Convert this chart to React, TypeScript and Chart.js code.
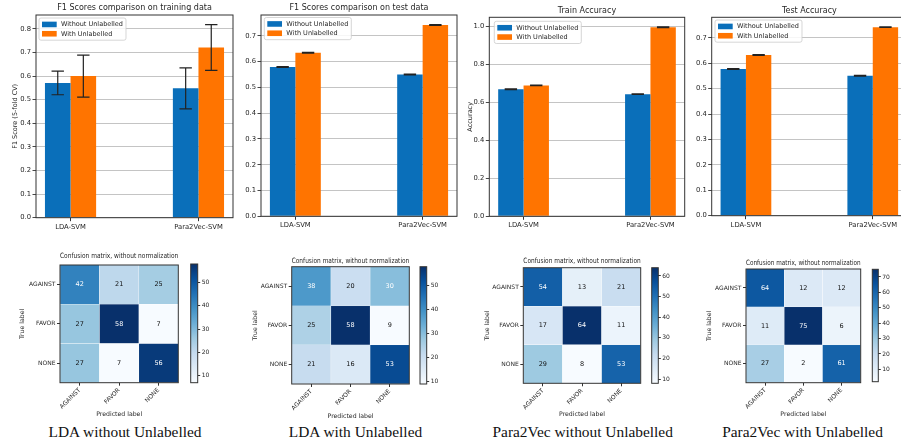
import React, { useEffect, useRef } from 'react';
import { Chart, registerables } from 'chart.js';

Chart.register(...registerables);

const FONT_FAMILY = 'DejaVu Sans';
const TEXT_COLOR = '#262626';
const SPINE_COLOR = '#333333';
const GRID_COLOR = '#bdbdbd';
const BLUE = '#0a6fba';
const ORANGE = '#ff7400';
Chart.defaults.font.family = FONT_FAMILY;
Chart.defaults.color = TEXT_COLOR;

// ---------------- data ----------------
const barCategories = ['LDA-SVM', 'Para2Vec-SVM'];
const seriesLabels = ['Without Unlabelled', 'With Unlabelled'];

const f1TrainWithout = [0.571, 0.548];
const f1TrainWithoutErr = [0.05, 0.087];
const f1TrainWith = [0.6, 0.721];
const f1TrainWithErr = [0.089, 0.097];

const f1TestWithout = [0.579, 0.55];
const f1TestWithoutErr = [0.0015, 0.0015];
const f1TestWith = [0.634, 0.742];
const f1TestWithErr = [0.0015, 0.0015];

const trainAccWithout = [0.668, 0.642];
const trainAccWithoutErr = [0.002, 0.002];
const trainAccWith = [0.688, 0.994];
const trainAccWithErr = [0.002, 0.002];

const testAccWithout = [0.577, 0.551];
const testAccWithoutErr = [0.0015, 0.0015];
const testAccWith = [0.632, 0.742];
const testAccWithErr = [0.0015, 0.0015];

const classLabels = ['AGAINST', 'FAVOR', 'NONE'];
const cmLdaWithout = [
  [42, 21, 25],
  [27, 58, 7],
  [27, 7, 56],
];
const cmLdaWith = [
  [38, 20, 30],
  [25, 58, 9],
  [21, 16, 53],
];
const cmP2vWithout = [
  [54, 13, 21],
  [17, 64, 11],
  [29, 8, 53],
];
const cmP2vWith = [
  [64, 12, 12],
  [11, 75, 6],
  [27, 2, 61],
];
const captions = [
  'LDA without Unlabelled',
  'LDA with Unlabelled',
  'Para2Vec without Unlabelled',
  'Para2Vec with Unlabelled',
];

// ---------------- helpers ----------------
const BLUES = ['#f7fbff', '#deebf7', '#c6dbef', '#9ecae1', '#6baed6', '#4292c6', '#2171b5', '#08519c', '#08306b'];
function hexRgb(h: string) {
  return [parseInt(h.slice(1, 3), 16), parseInt(h.slice(3, 5), 16), parseInt(h.slice(5, 7), 16)];
}
function bluesAt(t: number) {
  const tt = Math.max(0, Math.min(1, t));
  const p = tt * (BLUES.length - 1);
  const i = Math.min(Math.floor(p), BLUES.length - 2);
  const f = p - i;
  const a = hexRgb(BLUES[i]);
  const b = hexRgb(BLUES[i + 1]);
  const c = a.map((v, k) => Math.round(v + (b[k] - v) * f));
  return `rgb(${c[0]},${c[1]},${c[2]})`;
}
const lh = (s: number) => s * 1.2;

type Box = { l: number; t: number; r: number; b: number };

const framePlugin = {
  id: 'frame',
  afterDatasetsDraw(chart: any) {
    const a = chart.chartArea;
    const ctx = chart.ctx;
    ctx.save();
    ctx.strokeStyle = SPINE_COLOR;
    ctx.lineWidth = 1;
    ctx.strokeRect(a.left, a.top, a.right - a.left, a.bottom - a.top);
    ctx.restore();
  },
};

const errorBarPlugin = {
  id: 'errorBars',
  afterDatasetsDraw(chart: any) {
    const ctx = chart.ctx;
    const yScale = chart.scales.y;
    chart.data.datasets.forEach((ds: any, di: number) => {
      const errs = ds.errors;
      if (!errs) return;
      const meta = chart.getDatasetMeta(di);
      meta.data.forEach((el: any, j: number) => {
        const v = ds.data[j].y;
        const e = errs[j];
        const x = el.x;
        const y1 = yScale.getPixelForValue(v + e);
        const y2 = yScale.getPixelForValue(v - e);
        const cap = 6.2;
        ctx.save();
        ctx.strokeStyle = '#222';
        ctx.lineWidth = 1.2;
        ctx.beginPath();
        ctx.moveTo(x, y1);
        ctx.lineTo(x, y2);
        ctx.moveTo(x - cap, y1);
        ctx.lineTo(x + cap, y1);
        ctx.moveTo(x - cap, y2);
        ctx.lineTo(x + cap, y2);
        ctx.stroke();
        ctx.restore();
      });
    });
  },
};

function makeLegendPlugin(dx: number, dy: number) {
  return {
    id: 'boxLegend',
    afterDraw(chart: any) {
      const ctx = chart.ctx;
      const a = chart.chartArea;
      const size = 6.5;
      const padX = 3;
      const padY = 1.8;
      const patchW = 14.7;
      const patchH = 5.6;
      const gap = 4.3;
      const rowH = 9.3;
      ctx.save();
      ctx.font = `${size}px "${FONT_FAMILY}"`;
      const ds = chart.data.datasets;
      const tw = Math.max(...ds.map((d: any) => ctx.measureText(d.label).width));
      const x0 = a.left + dx;
      const y0 = a.top + dy;
      const w = padX + patchW + gap + tw + padX;
      const h = padY * 2 + ds.length * rowH;
      ctx.beginPath();
      if (ctx.roundRect) ctx.roundRect(x0, y0, w, h, 2);
      else ctx.rect(x0, y0, w, h);
      ctx.fillStyle = 'rgba(255,255,255,0.85)';
      ctx.fill();
      ctx.strokeStyle = '#cccccc';
      ctx.lineWidth = 0.8;
      ctx.stroke();
      ds.forEach((d: any, i: number) => {
        const cy = y0 + padY + rowH * (i + 0.5);
        ctx.fillStyle = d.backgroundColor;
        ctx.fillRect(x0 + padX, cy - patchH / 2, patchW, patchH);
        ctx.fillStyle = TEXT_COLOR;
        ctx.textBaseline = 'middle';
        ctx.textAlign = 'left';
        ctx.fillText(d.label, x0 + padX + patchW + gap, cy + 0.3);
      });
      ctx.restore();
    },
  };
}

function makeCellTextPlugin(matrix: number[][]) {
  const vmax = Math.max(...matrix.flat());
  return {
    id: 'cellText',
    afterDatasetsDraw(chart: any) {
      const ctx = chart.ctx;
      ctx.save();
      ctx.font = `6.5px "${FONT_FAMILY}"`;
      ctx.textAlign = 'center';
      ctx.textBaseline = 'middle';
      chart.data.datasets.forEach((_ds: any, i: number) => {
        const meta = chart.getDatasetMeta(i);
        meta.data.forEach((el: any, j: number) => {
          const v = matrix[i][j];
          ctx.fillStyle = v > vmax / 2 ? '#ffffff' : '#111111';
          ctx.fillText(String(v), el.x, (el.y + el.base) / 2);
        });
      });
      ctx.restore();
    },
  };
}

// ---------------- bar panels ----------------
interface BarPanel {
  canvas: Box;
  plot: Box;
  title: string;
  titleY: number;
  yTitle: string;
  yTitleX: number;
  step: number;
  without: number[];
  withoutErr: number[];
  withU: number[];
  withErr: number[];
  legendDx: number;
  legendDy: number;
}

const barPanels: BarPanel[] = [
  {
    canvas: { l: 0, t: 0, r: 237, b: 236 },
    plot: { l: 36, t: 15, r: 233, b: 217.7 },
    title: 'F1 Scores comparison on training data',
    titleY: 8.3,
    yTitle: 'F1 Score (5-fold CV)',
    yTitleX: 15,
    step: 0.1,
    without: f1TrainWithout,
    withoutErr: f1TrainWithoutErr,
    withU: f1TrainWith,
    withErr: f1TrainWithErr,
    legendDx: 3,
    legendDy: 3,
  },
  {
    canvas: { l: 237, t: 0, r: 461, b: 236 },
    plot: { l: 261, t: 15, r: 457, b: 216.3 },
    title: 'F1 Scores comparison on test data',
    titleY: 8.3,
    yTitle: '',
    yTitleX: 0,
    step: 0.1,
    without: f1TestWithout,
    withoutErr: f1TestWithoutErr,
    withU: f1TestWith,
    withErr: f1TestWithErr,
    legendDx: 3.3,
    legendDy: 2.5,
  },
  {
    canvas: { l: 460, t: 0, r: 688, b: 236 },
    plot: { l: 489.3, t: 17.3, r: 684.7, b: 216.3 },
    title: 'Train Accuracy',
    titleY: 11,
    yTitle: 'Accuracy',
    yTitleX: 470,
    step: 0.2,
    without: trainAccWithout,
    withoutErr: trainAccWithoutErr,
    withU: trainAccWith,
    withErr: trainAccWithErr,
    legendDx: 5,
    legendDy: 4,
  },
  {
    canvas: { l: 690, t: 0, r: 911, b: 236 },
    plot: { l: 711.7, t: 17.3, r: 907, b: 215.7 },
    title: 'Test Accuracy',
    titleY: 11,
    yTitle: '',
    yTitleX: 0,
    step: 0.1,
    without: testAccWithout,
    withoutErr: testAccWithoutErr,
    withU: testAccWith,
    withErr: testAccWithErr,
    legendDx: 3.3,
    legendDy: 2.7,
  },
];

function makeBarConfig(p: BarPanel): any {
  const TITLE = 8;
  const TICK = 6.8;
  const AXT = 6.5;
  const tTop = p.titleY - p.canvas.t - lh(TITLE) / 2;
  const tBottom = p.plot.t - p.canvas.t - lh(TITLE) - tTop;
  const yMax =
    1.05 *
    Math.max(
      ...p.without.map((v, i) => v + p.withoutErr[i]),
      ...p.withU.map((v, i) => v + p.withErr[i])
    );
  return {
    type: 'bar',
    data: {
      datasets: [
        {
          label: seriesLabels[0],
          data: p.without.map((v, i) => ({ x: i, y: v })),
          errors: p.withoutErr,
          backgroundColor: BLUE,
          borderWidth: 0,
        },
        {
          label: seriesLabels[1],
          data: p.withU.map((v, i) => ({ x: i, y: v })),
          errors: p.withErr,
          backgroundColor: ORANGE,
          borderWidth: 0,
        },
      ],
    },
    options: {
      responsive: false,
      animation: false,
      events: [],
      datasets: { bar: { categoryPercentage: 0.4, barPercentage: 1 } },
      layout: { padding: { left: 0, top: 0, bottom: 0, right: p.canvas.r - p.plot.r } },
      scales: {
        x: {
          type: 'linear',
          min: -0.27,
          max: 1.27,
          offset: false,
          grid: { display: true, drawOnChartArea: false, drawTicks: true, tickLength: 3.5, tickColor: SPINE_COLOR, offset: false },
          border: { display: false },
          afterBuildTicks: (s: any) => {
            s.ticks = barCategories.map((_c, i) => ({ value: i }));
          },
          ticks: {
            autoSkip: false,
            maxRotation: 0,
            minRotation: 0,
            padding: 1.5,
            font: { size: TICK },
            color: TEXT_COLOR,
            callback: (v: any) => barCategories[Math.round(Number(v))] ?? '',
          },
          afterFit: (s: any) => {
            s.height = p.canvas.b - p.plot.b;
          },
        },
        y: {
          min: 0,
          max: yMax,
          grid: { color: GRID_COLOR, lineWidth: 0.9, tickColor: SPINE_COLOR, tickLength: 3.5 },
          border: { display: false },
          ticks: {
            stepSize: p.step,
            includeBounds: false,
            padding: 1.5,
            font: { size: TICK },
            color: TEXT_COLOR,
            callback: (v: any) => Number(v).toFixed(1),
          },
          title: {
            display: !!p.yTitle,
            text: p.yTitle,
            font: { size: AXT },
            color: TEXT_COLOR,
            padding: { top: p.yTitleX - p.canvas.l - lh(AXT) / 2, bottom: 0 },
          },
          afterFit: (s: any) => {
            s.width = p.plot.l - p.canvas.l;
          },
        },
      },
      plugins: {
        legend: { display: false },
        tooltip: { enabled: false },
        title: {
          display: true,
          text: p.title,
          fullSize: false,
          color: TEXT_COLOR,
          font: { size: TITLE, weight: 'normal' },
          padding: { top: tTop, bottom: tBottom },
        },
      },
    },
    plugins: [framePlugin, errorBarPlugin, makeLegendPlugin(p.legendDx, p.legendDy)],
  };
}

// ---------------- matrix panels ----------------
interface MatrixPanel {
  canvas: Box;
  plot: Box;
  titleY: number;
  trueX: number;
  predY: number;
  cb: Box;
  cbCanvas: Box;
  matrix: number[][];
  caption: string;
  captionX: number;
}

const matrixPanels: MatrixPanel[] = [
  {
    canvas: { l: 8, t: 246, r: 182, b: 420 },
    plot: { l: 60, t: 265, r: 178.3, b: 382.7 },
    titleY: 255.7,
    trueX: 22.7,
    predY: 414.3,
    cb: { l: 190.7, t: 264, r: 197.7, b: 382.7 },
    cbCanvas: { l: 189, t: 257, r: 220, b: 390 },
    matrix: cmLdaWithout,
    caption: captions[0],
    captionX: 125,
  },
  {
    canvas: { l: 240, t: 249, r: 412, b: 422 },
    plot: { l: 291.7, t: 266.7, r: 409.3, b: 384 },
    titleY: 260.7,
    trueX: 255,
    predY: 416,
    cb: { l: 420, t: 266.7, r: 426.7, b: 384 },
    cbCanvas: { l: 418, t: 259, r: 450, b: 392 },
    matrix: cmLdaWith,
    caption: captions[1],
    captionX: 355.5,
  },
  {
    canvas: { l: 472, t: 250, r: 644, b: 420 },
    plot: { l: 523.3, t: 267.7, r: 640.7, b: 383.3 },
    titleY: 261.3,
    trueX: 487.3,
    predY: 414.3,
    cb: { l: 651.7, t: 267.7, r: 658.3, b: 383.3 },
    cbCanvas: { l: 650, t: 260, r: 682, b: 391 },
    matrix: cmP2vWithout,
    caption: captions[2],
    captionX: 582.7,
  },
  {
    canvas: { l: 695, t: 252, r: 864, b: 420 },
    plot: { l: 746, t: 269, r: 860.7, b: 382.7 },
    titleY: 263.3,
    trueX: 709.3,
    predY: 414,
    cb: { l: 872.3, t: 269.3, r: 878.3, b: 381.7 },
    cbCanvas: { l: 871, t: 262, r: 901, b: 389 },
    matrix: cmP2vWith,
    caption: captions[3],
    captionX: 802.5,
  },
];

function makeMatrixConfig(p: MatrixPanel): any {
  const TITLE = 7.3;
  const TICK = 6;
  const AXT = 6.2;
  const flat = p.matrix.flat();
  const vmin = Math.min(...flat);
  const vmax = Math.max(...flat);
  const tTop = p.titleY - p.canvas.t - lh(TITLE) / 2;
  const tBottom = p.plot.t - p.canvas.t - lh(TITLE) - tTop;
  return {
    type: 'bar',
    data: {
      labels: classLabels,
      datasets: classLabels.map((row, i) => ({
        label: row,
        data: classLabels.map(() => 1),
        backgroundColor: p.matrix[i].map((v) => bluesAt((v - vmin) / (vmax - vmin))),
        borderWidth: 0.5,
        borderColor: 'rgba(255,255,255,0.35)',
        barPercentage: 1,
        categoryPercentage: 1,
      })),
    },
    options: {
      responsive: false,
      animation: false,
      events: [],
      layout: { padding: { left: 0, top: 0, bottom: 0, right: p.canvas.r - p.plot.r } },
      scales: {
        x: {
          type: 'category',
          stacked: true,
          offset: true,
          grid: { offset: false, drawOnChartArea: false, drawTicks: true, tickLength: 3, tickColor: SPINE_COLOR },
          border: { display: false },
          ticks: { autoSkip: false, minRotation: 45, maxRotation: 45, padding: 1, font: { size: TICK }, color: TEXT_COLOR },
          title: {
            display: true,
            text: 'Predicted label',
            font: { size: AXT },
            color: TEXT_COLOR,
            padding: { top: 0, bottom: p.canvas.b - p.predY - lh(AXT) / 2 },
          },
          afterFit: (s: any) => {
            s.height = p.canvas.b - p.plot.b;
          },
        },
        y: {
          type: 'linear',
          stacked: true,
          reverse: true,
          min: 0,
          max: classLabels.length,
          afterBuildTicks: (s: any) => {
            s.ticks = classLabels.map((_c, i) => ({ value: i + 0.5 }));
          },
          grid: { drawOnChartArea: false, drawTicks: true, tickLength: 3, tickColor: SPINE_COLOR },
          border: { display: false },
          ticks: {
            autoSkip: false,
            padding: 1.5,
            font: { size: TICK },
            color: TEXT_COLOR,
            callback: (v: any) => classLabels[Math.floor(Number(v))] ?? '',
          },
          title: {
            display: true,
            text: 'True label',
            font: { size: AXT },
            color: TEXT_COLOR,
            padding: { top: p.trueX - p.canvas.l - lh(AXT) / 2, bottom: 0 },
          },
          afterFit: (s: any) => {
            s.width = p.plot.l - p.canvas.l;
          },
        },
      },
      plugins: {
        legend: { display: false },
        tooltip: { enabled: false },
        title: {
          display: true,
          text: 'Confusion matrix, without normalization',
          fullSize: false,
          color: TEXT_COLOR,
          font: { size: TITLE, weight: 'normal' },
          padding: { top: tTop, bottom: tBottom },
        },
      },
    },
    plugins: [framePlugin, makeCellTextPlugin(p.matrix)],
  };
}

function makeColorbarConfig(p: MatrixPanel): any {
  const flat = p.matrix.flat();
  const vmin = Math.min(...flat);
  const vmax = Math.max(...flat);
  return {
    type: 'bar',
    data: {
      labels: [''],
      datasets: [
        {
          data: [[vmin, vmax]],
          backgroundColor: (c: any) => {
            const area = c.chart.chartArea;
            if (!area) return BLUES[4];
            const g = c.chart.ctx.createLinearGradient(0, area.bottom, 0, area.top);
            BLUES.forEach((col, i) => g.addColorStop(i / (BLUES.length - 1), col));
            return g;
          },
          borderWidth: 0,
          barPercentage: 1,
          categoryPercentage: 1,
        },
      ],
    },
    options: {
      responsive: false,
      animation: false,
      events: [],
      layout: {
        padding: {
          left: p.cb.l - p.cbCanvas.l,
          top: p.cb.t - p.cbCanvas.t,
          bottom: p.cbCanvas.b - p.cb.b,
          right: 0,
        },
      },
      scales: {
        x: { display: false },
        y: {
          position: 'right',
          min: vmin,
          max: vmax,
          grid: { drawOnChartArea: false, drawTicks: true, tickLength: 2.5, tickColor: SPINE_COLOR },
          border: { display: false },
          ticks: { stepSize: 10, includeBounds: false, padding: 1.5, font: { size: 6 }, color: TEXT_COLOR },
          afterFit: (s: any) => {
            s.width = p.cbCanvas.r - p.cb.r;
          },
        },
      },
      plugins: { legend: { display: false }, tooltip: { enabled: false }, title: { display: false } },
    },
    plugins: [framePlugin],
  };
}

// ---------------- components ----------------
function ChartCanvas({ box, make }: { box: Box; make: () => any }) {
  const ref = useRef<HTMLCanvasElement>(null);
  useEffect(() => {
    const chart = new Chart(ref.current as HTMLCanvasElement, make());
    return () => chart.destroy();
  }, []);
  const w = Math.round(box.r - box.l);
  const h = Math.round(box.b - box.t);
  return (
    <canvas
      ref={ref}
      width={w}
      height={h}
      style={{ position: 'absolute', left: box.l, top: box.t, width: w, height: h }}
    />
  );
}

export default function App() {
  return (
    <div
      style={{
        position: 'fixed',
        left: 0,
        top: 0,
        width: 901,
        height: 442,
        overflow: 'hidden',
        background: '#ffffff',
      }}
    >
      {barPanels.map((p, i) => (
        <ChartCanvas key={'bar' + i} box={p.canvas} make={() => makeBarConfig(p)} />
      ))}
      {matrixPanels.map((p, i) => (
        <React.Fragment key={'cm' + i}>
          <ChartCanvas box={p.canvas} make={() => makeMatrixConfig(p)} />
          <ChartCanvas box={p.cbCanvas} make={() => makeColorbarConfig(p)} />
          <div
            style={{
              position: 'absolute',
              left: p.captionX - 150,
              width: 300,
              top: 422.5,
              textAlign: 'center',
              fontFamily: '"Liberation Serif", "Times New Roman", serif',
              fontSize: 15.4,
              lineHeight: '18px',
              color: '#111111',
              whiteSpace: 'nowrap',
            }}
          >
            {p.caption}
          </div>
        </React.Fragment>
      ))}
    </div>
  );
}
